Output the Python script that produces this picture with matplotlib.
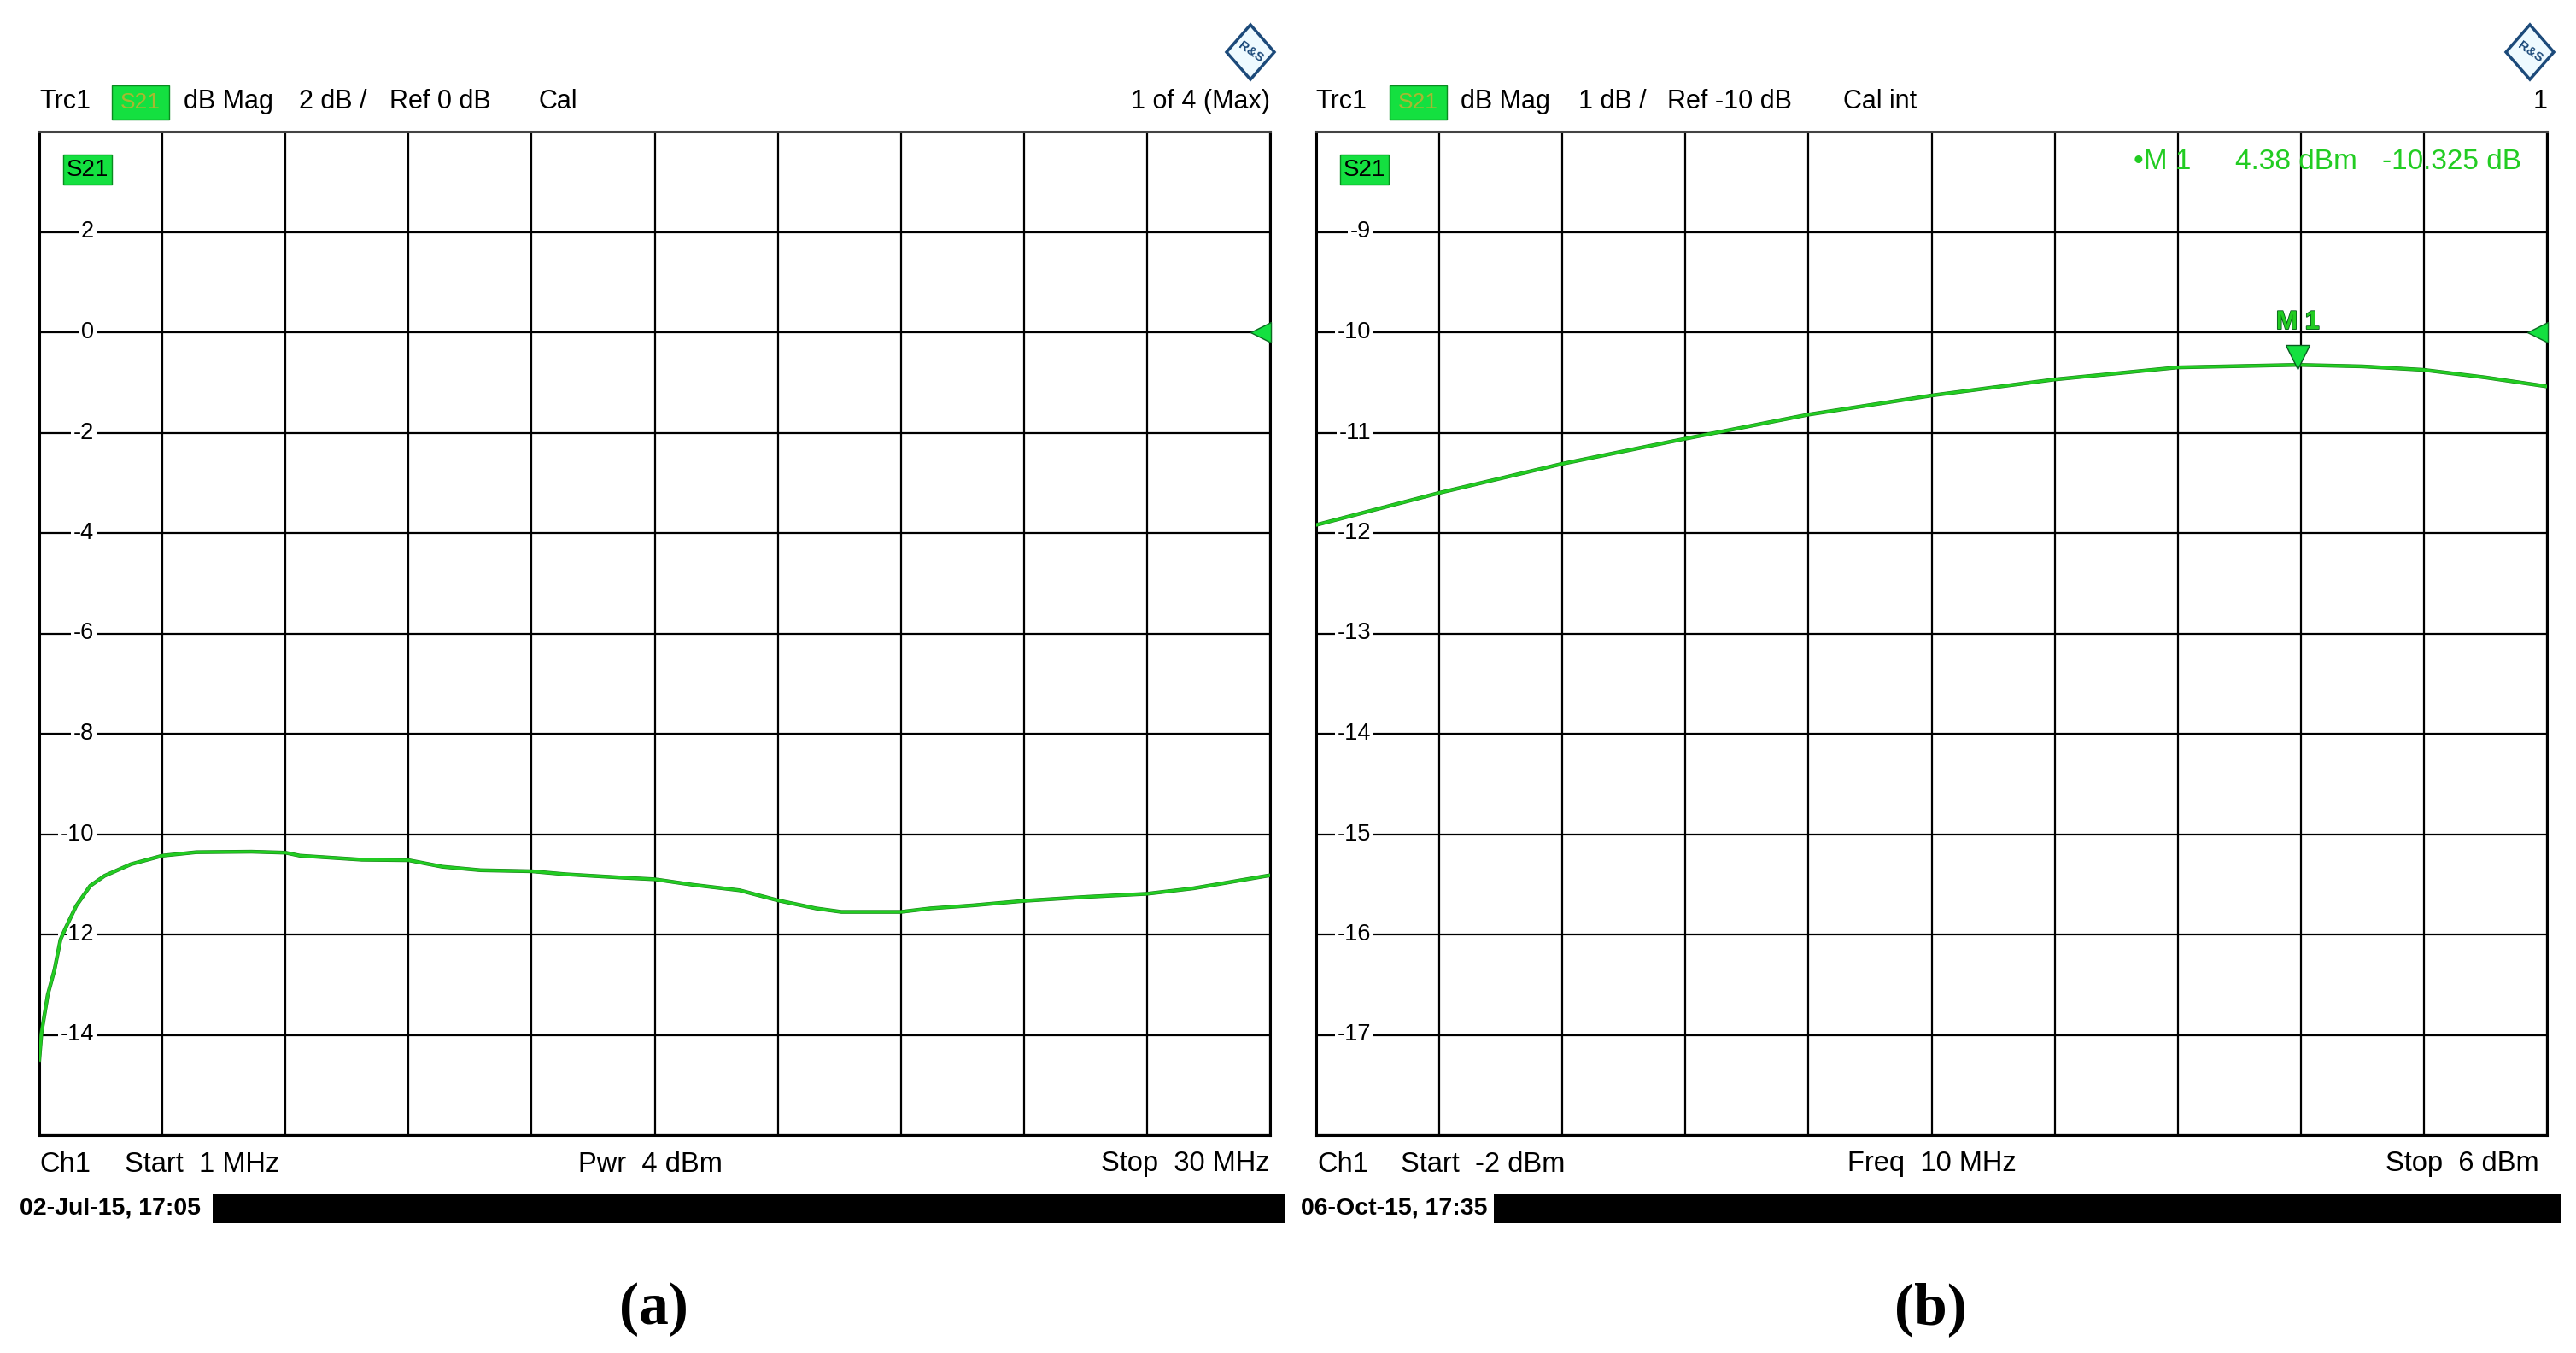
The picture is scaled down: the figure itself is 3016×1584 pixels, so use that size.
"""
Two R&S network-analyser screenshots: (a) S21 vs frequency, (b) S21 vs input power.
"""
import numpy as np
import matplotlib
matplotlib.use("Agg")
import matplotlib.pyplot as plt
from matplotlib.patches import Polygon, Rectangle
import matplotlib.patheffects as pe
from matplotlib.transforms import offset_copy

plt.rcParams["font.family"] = ["Liberation Sans", "DejaVu Sans"]

# ---- data ----
freq_mhz = [1.0, 1.05, 1.2, 1.36, 1.5, 1.61, 1.87, 2.2, 2.54, 3.16, 3.9, 4.7,
            6.0, 6.8, 7.14, 8.6, 9.7, 10.5, 11.4, 12.6, 13.4, 14.8, 15.5, 16.4,
            17.5, 18.4, 19.3, 19.9, 21.3, 22.0, 23.0, 24.2, 25.7, 27.1, 28.2, 30.0]
s21_freq = [-14.5, -13.97, -13.2, -12.7, -12.1, -11.89, -11.43, -11.03, -10.83, -10.6, -10.43, -10.36,
            -10.35, -10.37, -10.43, -10.51, -10.52, -10.65, -10.72, -10.74, -10.80, -10.87, -10.90, -11.01,
            -11.12, -11.32, -11.48, -11.55, -11.55, -11.48, -11.42, -11.33, -11.25, -11.19, -11.08, -10.82]

pwr_dbm = [-2.0, -1.2, -0.4, 0.4, 1.2, 2.0, 2.8, 3.6, 4.38, 4.8, 5.2, 5.6, 6.0]
s21_pwr = [-11.92, -11.60, -11.31, -11.06, -10.82, -10.63, -10.47, -10.35, -10.325, -10.34, -10.375, -10.45, -10.54]

marker_x = 4.38
marker_y = -10.325

yticks_a = [2, 0, -2, -4, -6, -8, -10, -12, -14]
yticks_b = [-9, -10, -11, -12, -13, -14, -15, -16, -17]

W, H = 3016, 1584
GREEN = "#22cc22"
BOXGREEN = "#14e040"
LOGO = "#1c4a7a"


def fx(px):
    return px / W


def fy(py):
    return 1 - py / H


fig = plt.figure(figsize=(W / 100, H / 100), dpi=100)


def screen(left_px, xlim, ylim, yticks, xdata, ydata, ref_y):
    ax = fig.add_axes([fx(left_px), fy(1329), 1441 / W, 1175 / H])
    ax.set_xlim(*xlim)
    ax.set_ylim(*ylim)
    ax.set_xticks(np.linspace(xlim[0], xlim[1], 11))
    ax.set_yticks(np.linspace(ylim[0], ylim[1], 11))
    ax.grid(True, color="black", linewidth=1.6)
    ax.tick_params(length=0, labelbottom=False, labelleft=False)
    for s in ax.spines.values():
        s.set_linewidth(2.2)
    ax.spines["top"].set_color("#444444")
    for v in yticks:
        ax.text(0.0444, v, str(v), transform=ax.get_yaxis_transform(),
                ha="right", va="center", fontsize=19.5, zorder=3,
                bbox=dict(facecolor="white", edgecolor="none", pad=2))
    ax.plot(xdata, ydata, color=GREEN, linewidth=2.4, zorder=4,
            path_effects=[pe.Stroke(linewidth=3.2, foreground="#1a7a1a"), pe.Normal()])
    # reference level arrow at right edge, drawn just inside the frame
    ref_tr = offset_copy(ax.get_yaxis_transform(), fig=fig, x=-11, y=0, units="dots")
    ax.plot([1.0], [ref_y], marker="<", markersize=17, color=BOXGREEN,
            markeredgecolor="#0a6a20", transform=ref_tr,
            clip_on=False, zorder=5, linestyle="none")
    ax.text(0.022, 0.962, "S21", transform=ax.transAxes, fontsize=20,
            ha="left", va="center", zorder=5,
            bbox=dict(facecolor=BOXGREEN, edgecolor="#0a8a20", pad=3))
    return ax


ax_a = screen(46, (1, 30), (-16, 4), yticks_a, freq_mhz, s21_freq, 0)
ax_b = screen(1541, (-2, 6), (-18, -8), yticks_b, pwr_dbm, s21_pwr, -10)

# marker M1 on panel (b)
tri = offset_copy(ax_b.transData, fig=fig, x=0, y=9, units="dots")
ax_b.plot([marker_x], [marker_y], marker="v", markersize=20, color=BOXGREEN,
          markeredgecolor="#0a5a20", transform=tri, zorder=6, clip_on=False)
lab = offset_copy(ax_b.transData, fig=fig, x=0, y=50, units="dots")
ax_b.text(marker_x, marker_y, "M 1", transform=lab, ha="center", va="center",
          fontsize=22, fontweight="bold", color=GREEN, zorder=6,
          path_effects=[pe.withStroke(linewidth=1.2, foreground="#0a5a20")])
info = [("\u2022M 1", 2498), (f"{marker_x:.2f} dBm", 2617), (f"{marker_y:.3f} dB", 2789)]
for s, x in info:
    fig.text(fx(x), fy(189), s, fontsize=24, color=GREEN, ha="left", va="center")

# header lines
hdr_a = [("Trc1", 46), ("dB Mag", 215), ("2 dB /", 350), ("Ref 0 dB", 456), ("Cal", 631)]
hdr_b = [("Trc1", 1540), ("dB Mag", 1710), ("1 dB /", 1848), ("Ref -10 dB", 1952), ("Cal int", 2158)]
for s, x in hdr_a + hdr_b:
    fig.text(fx(x), fy(119), s, fontsize=22, ha="left", va="center")
for x0 in (131, 1627):
    fig.patches.append(Rectangle((fx(x0), fy(140)), 67 / W, 40 / H,
                                 transform=fig.transFigure, facecolor=BOXGREEN,
                                 edgecolor="#0a8a20", linewidth=1))
    fig.text(fx(x0 + 33), fy(120), "S21", fontsize=19, color="#a8b830",
             ha="center", va="center")
fig.text(fx(1487), fy(119), "1 of 4 (Max)", fontsize=22, ha="right", va="center")
fig.text(fx(2983), fy(119), "1", fontsize=22, ha="right", va="center")

# R&S logos
for cx in (1464, 2962):
    cy = 61
    pts = [(fx(cx), fy(cy - 32)), (fx(cx + 28), fy(cy)), (fx(cx), fy(cy + 32)), (fx(cx - 28), fy(cy))]
    fig.patches.append(Polygon(pts, closed=True, transform=fig.transFigure,
                               facecolor="#eefaff", edgecolor=LOGO, linewidth=2.5))
    fig.text(fx(cx), fy(cy), "R&S", fontsize=11, fontweight="bold", color=LOGO,
             ha="center", va="center", rotation=-35)

# footer lines
ftr = [("Ch1", 46, "left"), ("Start  1 MHz", 146, "left"), ("Pwr  4 dBm", 677, "left"),
       ("Stop  30 MHz", 1487, "right"),
       ("Ch1", 1542, "left"), ("Start  -2 dBm", 1640, "left"), ("Freq  10 MHz", 2163, "left"),
       ("Stop  6 dBm", 2973, "right")]
for s, x, ha in ftr:
    fig.text(fx(x), fy(1363), s, fontsize=23.5, ha=ha, va="center")

# date + black status bars
for s, x, bar0, bar1 in [("02-Jul-15, 17:05", 23, 249, 1505), ("06-Oct-15, 17:35", 1523, 1749, 2999)]:
    fig.text(fx(x), fy(1415), s, fontsize=20.5, fontweight="bold", ha="left", va="center")
    fig.patches.append(Rectangle((fx(bar0), fy(1432)), (bar1 - bar0) / W, 34 / H,
                                 transform=fig.transFigure, facecolor="black", edgecolor="none"))

# sub-figure captions
for s, x in [("(a)", 765), ("(b)", 2260)]:
    fig.text(fx(x), fy(1533), s, fontsize=50, fontweight="bold", ha="center", va="center",
             family=["Liberation Serif", "DejaVu Serif"])

fig.savefig("out.png", dpi=100)
